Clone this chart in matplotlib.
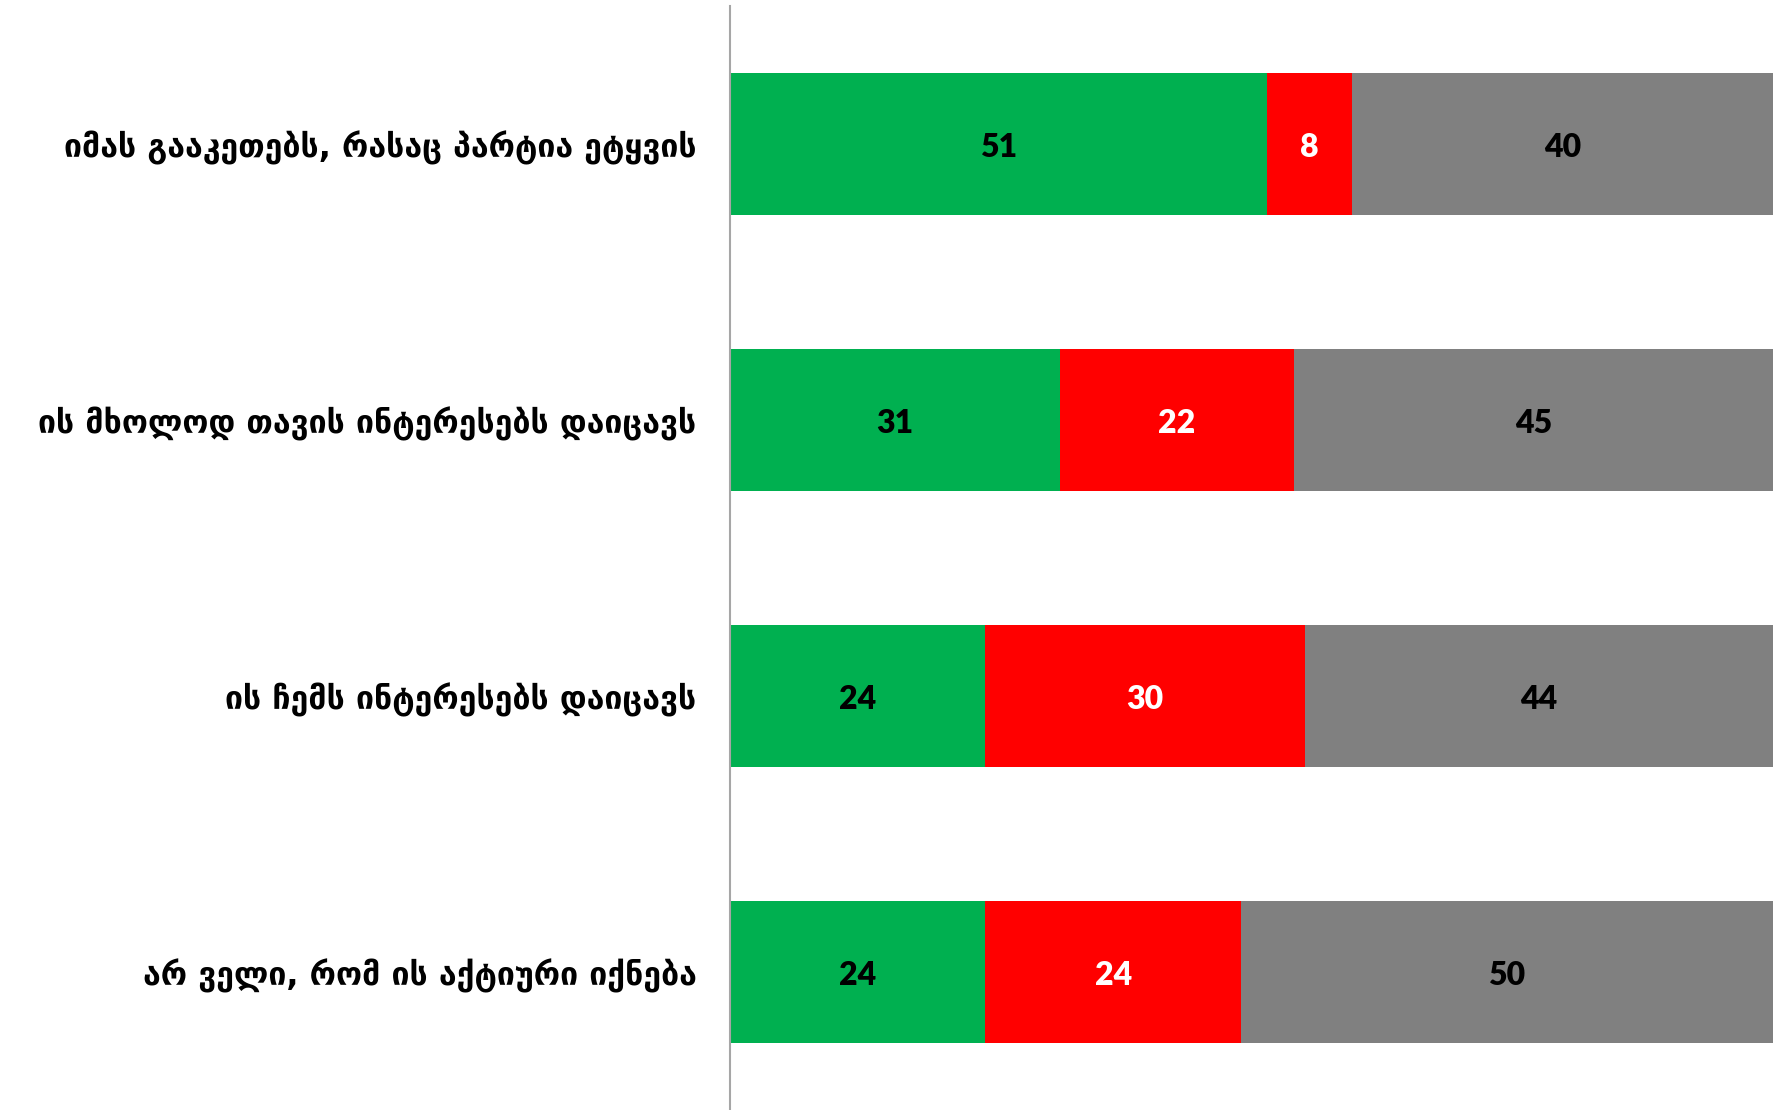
import matplotlib
matplotlib.use("Agg")
import matplotlib.pyplot as plt
import numpy as np

categories = [
    "იმას გააკეთებს, რასაც პარტია ეტყვის",
    "ის მხოლოდ თავის ინტერესებს დაიცავს",
    "ის ჩემს ინტერესებს დაიცავს",
    "არ ველი, რომ ის აქტიური იქნება",
]
green_vals = [51, 31, 24, 24]
red_vals = [8, 22, 30, 24]
gray_vals = [40, 45, 44, 50]

colors = ["#00B050", "#FF0000", "#808080"]
text_colors = ["black", "white", "black"]

fig = plt.figure(figsize=(17.83, 11.10), dpi=100)
ax = fig.add_axes([730 / 1783, 0.0, (1773 - 730) / 1783, 1 - 6 / 1110])

series = [np.array(green_vals, float), np.array(red_vals, float), np.array(gray_vals, float)]
totals = sum(series)
y = np.arange(len(categories))
left = np.zeros(len(categories))
for vals, col, tcol in zip(series, colors, text_colors):
    share = vals / totals * 100
    bars = ax.barh(y, share, left=left, height=0.518, color=col, linewidth=0)
    for b, v in zip(bars, vals):
        ax.text(b.get_x() + b.get_width() / 2, b.get_y() + b.get_height() / 2 + 0.012,
                f"{int(v)}", ha="center", va="center", color=tcol,
                fontsize=23, fontweight="heavy", family=["Lato", "DejaVu Sans"])
    left += share

ax.set_xlim(0, 100)
ax.set_ylim(len(categories) - 0.5, -0.5)
ax.set_yticks(y)
ax.set_yticklabels(categories, fontsize=23, fontweight="bold", family="DejaVu Sans")
ax.tick_params(axis="y", length=0, pad=24)
ax.set_xticks([])
for s in ["top", "right", "bottom"]:
    ax.spines[s].set_visible(False)
ax.spines["left"].set_color("#a6a6a6")
ax.spines["left"].set_linewidth(1.5)

fig.savefig("out.png", dpi=100, facecolor="white")
